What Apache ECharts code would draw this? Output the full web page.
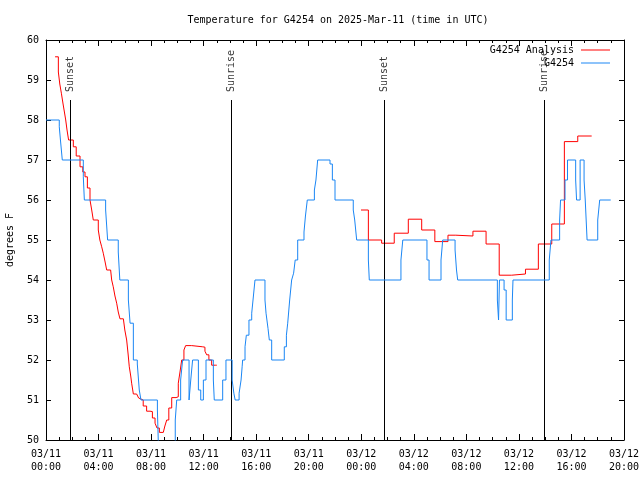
<!DOCTYPE html>
<html>
<head>
<meta charset="utf-8">
<script src="https://cdn.jsdelivr.net/npm/echarts@6/dist/echarts.min.js"></script>
<style>html,body{margin:0;padding:0;background:#fff}#c{width:640px;height:480px}</style>
</head>
<body>
<div id="c"></div>
<script>
// hours since 03/11 00:00 UTC, temperature in deg F
const analysis = [
 [0.69,59.58],[0.94,59.2],[1.05,58.9],[1.17,58.67],[1.3,58.4],[1.4,58.2],[1.5,58.0],[1.6,57.75],[1.72,57.5],
 [2.08,57.33],[2.3,57.1],[2.59,56.83],[2.8,56.7],[2.97,56.58],[3.15,56.3],[3.35,56.0],[3.48,55.75],[3.6,55.5],
 [3.98,55.25],[4.1,55.0],[4.24,54.83],[4.36,54.67],[4.5,54.45],[4.62,54.25],[4.92,54.23],[5.0,54.0],[5.12,53.83],
 [5.25,53.6],[5.38,53.42],[5.5,53.2],[5.63,53.03],[5.89,53.0],[6.0,52.75],[6.14,52.5],[6.25,52.15],[6.34,51.83],
 [6.45,51.6],[6.52,51.42],[6.65,51.15],[6.9,51.12],[7.05,51.05],[7.16,51.0],[7.4,50.85],[7.66,50.72],[7.92,50.71],
 [8.1,50.55],[8.3,50.42],[8.45,50.3],[8.63,50.19],[8.93,50.19],[9.05,50.35],[9.19,50.5],[9.35,50.8],[9.57,51.06],
 [9.9,51.08],[10.07,51.42],[10.2,51.7],[10.33,52.0],[10.5,52.25],[10.63,52.36],[11.09,52.34],[11.2,52.33],
 [11.93,52.32],[12.1,52.22],[12.23,52.13],[12.4,52.0],[12.61,51.87],[12.92,51.87],[13.0,'-'],
 [23.98,55.75],[24.54,55.0],[25.55,54.92],[26.51,55.17],[27.58,55.52],[28.6,55.25],[29.6,54.96],[30.6,55.12],
 [31.2,55.1],[32.5,55.22],[33.5,54.9],[34.5,54.12],[35.45,54.15],[36.5,54.27],[37.48,54.9],[38.5,55.4],
 [39.46,57.46],[40.48,57.6],[41.54,57.6]
];
const observed = [
 [0,58.0],[1.01,57.83],[1.1,57.5],[1.24,57.0],[2.84,56.58],[2.92,56.0],[4.54,55.75],[4.69,55.0],[5.5,54.7],
 [5.62,54.0],[6.27,53.5],[6.4,52.92],[6.65,52.0],[6.95,51.9],[7.1,51.25],[7.23,51.0],[8.48,50.75],[8.63,49.0],
 [9.84,50.5],[9.95,51.0],[10.25,51.5],[10.4,52.0],[10.89,51.0],[11.02,51.5],[11.16,52.0],[11.6,51.25],[11.78,51.0],
 [11.98,51.5],[12.18,52.0],[12.74,51.5],[12.81,51.0],[13.45,51.5],[13.7,52.0],[14.17,51.5],[14.3,51.17],[14.4,51.0],
 [14.7,51.17],[14.85,51.5],[14.93,51.83],[14.97,52.0],[15.15,52.33],[15.25,52.62],[15.45,53.0],[15.66,53.17],
 [15.76,53.5],[15.91,54.0],[16.67,53.5],[16.75,53.17],[16.9,52.79],[17.0,52.5],[17.18,52.0],[18.14,52.33],
 [18.3,52.62],[18.4,52.92],[18.55,53.5],[18.7,54.0],[18.85,54.17],[18.97,54.5],[19.16,55.0],[19.64,55.2],
 [19.75,55.6],[19.89,56.0],[20.43,56.25],[20.55,56.5],[20.68,57.0],[21.62,56.9],[21.8,56.5],[22.0,56.0],
 [23.39,55.75],[23.5,55.5],[23.65,55.0],[24.54,54.5],[24.61,54.0],[27.02,54.5],[27.16,55.0],[29.0,54.5],
 [29.16,54.0],[30.07,54.5],[30.2,55.0],[31.14,54.75],[31.25,54.25],[31.34,54.0],[34.36,53.5],[34.45,53.0],
 [34.52,54.0],[34.87,53.75],[35.03,53.0],[35.5,53.5],[35.55,54.0],[38.31,54.5],[38.44,55.0],[39.1,55.5],
 [39.17,56.0],[39.51,56.5],[39.7,57.0],[40.32,56.5],[40.39,56.0],[40.66,57.0],[40.96,56.5],[41.05,56.0],
 [41.12,55.5],[41.19,55.0],[42.0,55.5],[42.15,56.0],[42.99,56.0]
];
const sunTimes = [1.85, 14.08, 25.74, 37.93];
const sunNames = ['Sunset', 'Sunrise', 'Sunset', 'Sunrise'];
const xTickLabels = ['03/11\n00:00','03/11\n04:00','03/11\n08:00','03/11\n12:00','03/11\n16:00','03/11\n20:00',
                     '03/12\n00:00','03/12\n04:00','03/12\n08:00','03/12\n12:00','03/12\n16:00','03/12\n20:00'];
const seriesNames = ['G4254 Analysis', 'G4254'];

const FONT = 'DejaVu Sans Mono';
const chart = echarts.init(document.getElementById('c'), null, {renderer: 'canvas'});
const xBase = {
  type: 'value', min: 0, max: 44, interval: 4,
  axisLine: {show: true, onZero: false, lineStyle: {color: '#000', width: 1}},
  axisTick: {show: true, inside: true, length: 6, lineStyle: {color: '#000'}},
  minorTick: {show: true, splitNumber: 4, length: 3, lineStyle: {color: '#000'}},
  splitLine: {show: false}, minorSplitLine: {show: false}
};
const yBase = {
  type: 'value', min: 50, max: 60, interval: 1,
  axisLine: {show: true, onZero: false, lineStyle: {color: '#000', width: 1}},
  axisTick: {show: true, inside: true, length: 5, lineStyle: {color: '#000'}},
  splitLine: {show: false}
};
const legendBase = {
  orient: 'vertical', right: 30, align: 'right', padding: 0,
  icon: 'rect', itemWidth: 29, itemHeight: 1, itemGap: 0,
  textStyle: {fontFamily: FONT, fontSize: 10, color: '#000', padding: [0, 2, 0, 0]}
};
chart.setOption({
  animation: false,
  backgroundColor: '#fff',
  title: {
    text: 'Temperature for G4254 on 2025-Mar-11 (time in UTC)',
    left: 333, top: 10, textAlign: 'center',
    textStyle: {fontFamily: FONT, fontSize: 10, fontWeight: 'normal', color: '#000'}
  },
  legend: [
    Object.assign({}, legendBase, {data: [seriesNames[0]], top: 45}),
    Object.assign({}, legendBase, {data: [seriesNames[1]], top: 58})
  ],
  grid: {left: 46, right: 16, top: 40, bottom: 40, containLabel: false, outerBoundsMode: 'none'},
  xAxis: [
    Object.assign({}, xBase, {position: 'bottom',
      axisLabel: {fontFamily: FONT, fontSize: 10, color: '#000', margin: 8, lineHeight: 13,
        formatter: v => xTickLabels[Math.round(v / 4)]}}),
    Object.assign({}, xBase, {position: 'top', axisLabel: {show: false}})
  ],
  yAxis: [
    Object.assign({}, yBase, {position: 'left', name: 'degrees F', nameLocation: 'middle', nameGap: 31,
      nameTextStyle: {fontFamily: FONT, fontSize: 10, color: '#000'},
      axisLabel: {fontFamily: FONT, fontSize: 10, color: '#000', margin: 7}}),
    Object.assign({}, yBase, {position: 'right', axisLabel: {show: false}})
  ],
  series: [
    {
      name: 'sun', type: 'scatter', symbolSize: 0, silent: true,
      data: sunTimes.map((h, i) => ({value: [h, 58.7], name: sunNames[i]})),
      label: {show: true, formatter: '{b}', position: 'inside', rotate: 90, align: 'left', verticalAlign: 'middle',
        fontFamily: FONT, fontSize: 10, color: '#000'},
      markLine: {
        silent: true, symbol: ['none', 'none'], animation: false,
        lineStyle: {color: '#000', width: 1, type: 'solid'}, label: {show: false},
        data: sunTimes.map(h => [{coord: [h, 50]}, {coord: [h, 58.5]}])
      },
      z: 3
    },
    {
      name: seriesNames[0], type: 'line', step: 'end', data: analysis, symbol: 'none', showSymbol: false,
      connectNulls: false, lineStyle: {color: '#ff0000', width: 1}, itemStyle: {color: '#ff0000'}, z: 4
    },
    {
      name: seriesNames[1], type: 'line', step: 'end', data: observed, symbol: 'none', showSymbol: false,
      lineStyle: {color: '#1a86f4', width: 1}, itemStyle: {color: '#1a86f4'}, z: 5
    }
  ]
});
</script>
</body>
</html>
